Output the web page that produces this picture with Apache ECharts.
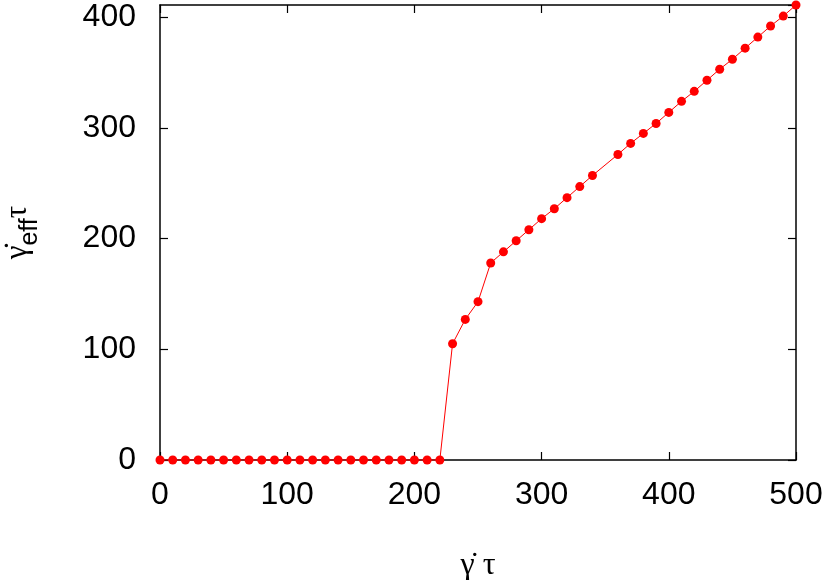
<!DOCTYPE html>
<html>
<head>
<meta charset="utf-8">
<script src="https://cdn.jsdelivr.net/npm/echarts@6/dist/echarts.min.js"></script>
<style>
  html, body { margin: 0; padding: 0; background: #fff; }
  #chart { width: 830px; height: 580px; }
</style>
</head>
<body>
<div id="chart"></div>
<script>
// shear rate (x) and effective shear rate (y)
const shearRate = [0, 10, 20, 30, 40, 50, 60, 70, 80, 90, 100, 110, 120, 130, 140, 150, 160, 170, 180, 190, 200, 210, 220,
    230, 240, 250, 260, 270, 280, 290, 300, 310, 320, 330, 340,
    360, 370, 380, 390, 400, 410, 420, 430, 440, 450, 460, 470, 480, 490, 500];
const effRate = [0, 0, 0, 0, 0, 0, 0, 0, 0, 0, 0, 0, 0, 0, 0, 0, 0, 0, 0, 0, 0, 0, 0,
    105, 127, 143, 178, 188, 198, 208, 218, 227, 237, 247, 257,
    276, 286, 295, 304, 314, 324, 333, 343, 353, 362, 372, 382, 392, 401, 411];

const xTicks = [0, 100, 200, 300, 400, 500];
const yTicks = [0, 100, 200, 300, 400];

const chart = echarts.init(document.getElementById('chart'));

const font = 'Liberation Sans, Arial, sans-serif';
const greek = 'Liberation Serif, DejaVu Serif, serif';
const axisLine = { show: true, onZero: false, lineStyle: { color: '#000', width: 1.5 } };
const tick = { show: true, inside: true, length: 8, lineStyle: { color: '#000', width: 1.2 } };

const points = shearRate.map((x, i) => [x, effRate[i]]);

const options = {
    animation: false,
    backgroundColor: '#fff',
    grid: { left: 160, right: 34, top: 5, bottom: 120, containLabel: false, outerBoundsMode: 'none' },
    xAxis: [
        {
            type: 'value', min: 0, max: 500, interval: 100,
            position: 'bottom',
            axisLine: axisLine, axisTick: tick,
            splitLine: { show: false },
            axisLabel: {
                fontSize: 32, color: '#000', fontFamily: font, margin: 19,
                formatter: v => xTicks.includes(v) ? String(v) : ''
            },
            name: 'γ̇ τ', nameLocation: 'middle', nameGap: 90,
            nameTextStyle: { fontSize: 32, color: '#000', fontFamily: greek }
        },
        {
            type: 'value', min: 0, max: 500, interval: 100,
            position: 'top',
            axisLine: axisLine, axisTick: tick,
            splitLine: { show: false }, axisLabel: { show: false }
        }
    ],
    yAxis: [
        {
            type: 'value', min: 0, max: 411, interval: 100,
            position: 'left',
            axisLine: axisLine, axisTick: tick,
            splitLine: { show: false },
            axisLabel: {
                fontSize: 32, color: '#000', fontFamily: font, margin: 24,
                showMaxLabel: false,
                formatter: v => yTicks.includes(v) ? String(v) : ''
            },
            name: '{g|γ̇}{s|eff}{g|τ}', nameLocation: 'middle', nameGap: 117, nameRotate: 90,
            nameTextStyle: {
                color: '#000', fontFamily: font,
                rich: {
                    g: { fontSize: 31, color: '#000', fontFamily: greek, lineHeight: 50, verticalAlign: 'middle' },
                    s: { fontSize: 25, color: '#000', fontFamily: font, lineHeight: 25, verticalAlign: 'bottom' }
                }
            }
        },
        {
            type: 'value', min: 0, max: 411, interval: 100,
            position: 'right',
            axisLine: axisLine, axisTick: tick,
            splitLine: { show: false }, axisLabel: { show: false }
        }
    ],
    series: [
        {
            type: 'line',
            data: points,
            symbol: 'circle',
            symbolSize: 9,
            itemStyle: { color: '#ff0000' },
            lineStyle: { color: '#ff0000', width: 1 },
            clip: false
        }
    ]
};

chart.setOption(options);
</script>
</body>
</html>
